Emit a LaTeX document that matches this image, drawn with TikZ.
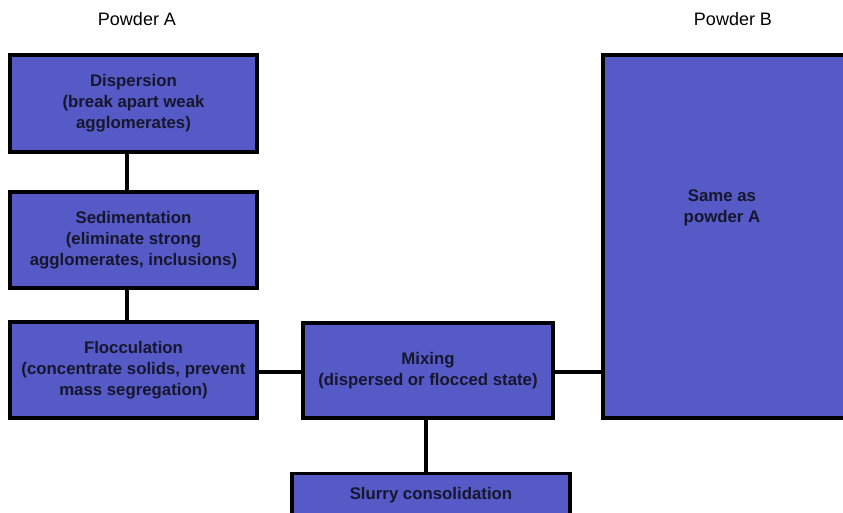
\documentclass[tikz,border=0pt]{standalone}
\usepackage{fontspec}
\setmainfont{Liberation Sans}
\definecolor{boxblue}{RGB}{86,90,198}
\definecolor{inkc}{RGB}{22,22,45}
\begin{document}
\begin{tikzpicture}[x=1pt,y=-1pt,
  box/.style={draw=black,line width=3.2pt,fill=boxblue,inner sep=0pt,
    align=center,text=inkc,font=\fontsize{16.8}{21}\selectfont\bfseries},
  lbl/.style={text=black,font=\fontsize{18}{21}\selectfont,align=center},
  link/.style={line width=3.8pt,draw=black}]
\useasboundingbox (0,0) rectangle (843,512);
\clip (0,0) rectangle (843,512);
\node[lbl] (pa) at (137,19) {Powder A};
\node[lbl] (pb) at (733,19) {Powder B};
\node[box,minimum width=247pt,minimum height=97pt] (disp) at (133.5,103.5)
  {Dispersion\\(break apart weak\\agglomerates)};
\node[box,minimum width=247pt,minimum height=96pt] (sed) at (133.5,240)
  {Sedimentation\\(eliminate strong\\agglomerates, inclusions)};
\node[box,minimum width=247pt,minimum height=96pt] (floc) at (133.5,370)
  {Flocculation\\(concentrate solids, prevent\\mass segregation)};
\node[box,minimum width=250pt,minimum height=95pt] (mix) at (428,370.5)
  {Mixing\\(dispersed or flocced state)};
\node[box,minimum width=260pt,minimum height=363pt] (pbox) at (733,236.5) {};
\node[box,draw=none,fill=none] (same) at (722,208) {Same as\\powder A};
\node[box,minimum width=278pt,minimum height=46pt,anchor=north] (slurry) at (431,472)
  {\raisebox{6pt}{Slurry consolidation}};
\draw[link] (disp.south -| 127,0) -- (sed.north -| 127,0);
\draw[link] (sed.south -| 127,0) -- (floc.north -| 127,0);
\draw[link] (floc.east |- 0,372) -- (mix.west |- 0,372);
\draw[link] (mix.east |- 0,372) -- (pbox.west |- 0,372);
\draw[link] (mix.south -| 426,0) -- (slurry.north -| 426,0);
\end{tikzpicture}
\end{document}
